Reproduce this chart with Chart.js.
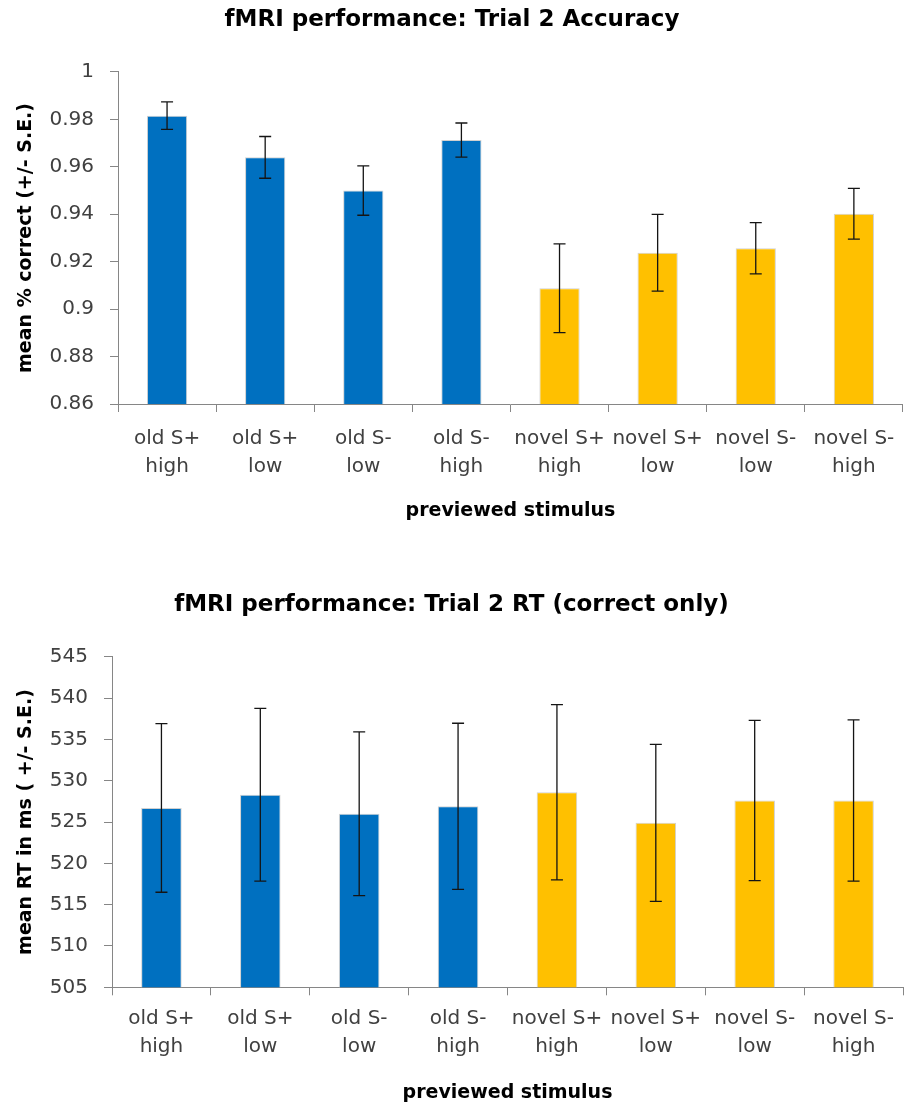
<!DOCTYPE html>
<html><head><meta charset="utf-8">
<script src="https://cdn.jsdelivr.net/npm/chart.js@4/dist/chart.umd.min.js"></script>
<style>
html,body{margin:0;padding:0;background:#fff;}
body{width:907px;height:1109px;position:relative;overflow:hidden;}
.box{position:absolute;left:0;width:907px;}
canvas{display:block;}
</style></head><body>
<div class="box" style="top:0;height:550px"><canvas id="c1" width="907" height="550"></canvas></div>
<div class="box" style="top:560px;height:549px"><canvas id="c2" width="907" height="549"></canvas></div>
<script>
// ---- data ----
const categories = [["old S+","high"],["old S+","low"],["old S-","low"],["old S-","high"],
                    ["novel S+","high"],["novel S+","low"],["novel S-","low"],["novel S-","high"]];
const accuracy    = [0.9816, 0.9640, 0.9500, 0.9713, 0.9088, 0.9238, 0.9257, 0.9402];
const accuracyErr = [0.0058, 0.0088, 0.0104, 0.0072, 0.0187, 0.0162, 0.0108, 0.0107];
const rtMs        = [526.7, 528.3, 526.0, 526.9, 528.6, 524.9, 527.6, 527.6];
const rtErr       = [10.2, 10.45, 9.9, 10.05, 10.6, 9.5, 9.7, 9.75];
const barColors   = ["#0070C0","#0070C0","#0070C0","#0070C0","#FFC000","#FFC000","#FFC000","#FFC000"];

Chart.defaults.font.family = "'DejaVu Sans', sans-serif";

const errorBarPlugin = {
  id: 'errorBars',
  afterDatasetsDraw(chart, args, opts) {
    const ctx = chart.ctx, ys = chart.scales.y;
    const meta = chart.getDatasetMeta(0);
    const vals = chart.data.datasets[0].data;
    ctx.save();
    ctx.strokeStyle = '#141414';
    ctx.lineWidth = 1.3;
    meta.data.forEach((bar, i) => {
      const v = vals[i], e = opts.values[i];
      const yt = ys.getPixelForValue(v + e), yb = ys.getPixelForValue(v - e);
      const x = bar.x, w = 6;
      ctx.beginPath();
      ctx.moveTo(x, yt); ctx.lineTo(x, yb);
      ctx.moveTo(x - w, yt); ctx.lineTo(x + w, yt);
      ctx.moveTo(x - w, yb); ctx.lineTo(x + w, yb);
      ctx.stroke();
    });
    ctx.restore();
  }
};

function build(id, o) {
  const tTop = o.titleC - 13.8;
  return new Chart(document.getElementById(id), {
    type: 'bar',
    data: { labels: categories, datasets: [{ data: o.values, backgroundColor: barColors,
            borderWidth: 1, borderColor: 'rgba(200,200,200,0.85)',
            barPercentage: 0.41, categoryPercentage: 1 }] },
    plugins: [errorBarPlugin],
    options: {
      responsive: false, animation: false, devicePixelRatio: 1,
      layout: { padding: { left: 0, right: 907 - o.right, top: 0, bottom: 0 } },
      plugins: {
        legend: { display: false }, tooltip: { enabled: false },
        errorBars: { values: o.err },
        title: { display: true, text: o.title, color: '#000',
                 font: { size: 23, weight: 'bold', lineHeight: 1.2 },
                 padding: { top: tTop, bottom: o.top - tTop - 27.6 } }
      },
      scales: {
        x: {
          afterFit: s => { s.height = o.H - o.bottom; },
          grid: { display: true, drawOnChartArea: false, drawTicks: true, tickLength: 8, color: '#868686', offset: true },
          border: { color: '#868686', width: 1 },
          ticks: { font: { size: 20, lineHeight: 1.4 }, color: '#404040', padding: o.xPad, maxRotation: 0, autoSkip: false },
          title: { display: true, text: 'previewed stimulus', color: '#000',
                   font: { size: 19, weight: 'bold', lineHeight: 1.2 },
                   padding: { top: 0, bottom: o.H - o.xTitleC - 11.4 } }
        },
        y: {
          min: o.min, max: o.max,
          afterFit: s => { s.width = o.left; },
          grid: { display: true, drawOnChartArea: false, drawTicks: true, tickLength: 8, color: '#868686' },
          border: { color: '#868686', width: 1 },
          ticks: { stepSize: o.step, font: { size: 20 }, color: '#404040', padding: o.yPad,
                   callback: v => String(parseFloat(Number(v).toFixed(2))) },
          title: { display: true, text: o.yTitle, color: '#000',
                   font: { size: 19, weight: 'bold', lineHeight: 1.2 },
                   padding: { top: o.yTitleC - 11.4, bottom: 0 } }
        }
      }
    }
  });
}

build('c1', { values: accuracy, err: accuracyErr, min: 0.86, max: 1, step: 0.02,
  title: 'fMRI performance: Trial 2 Accuracy', yTitle: 'mean % correct (+/- S.E.)',
  H: 550, left: 118, right: 904, top: 72, bottom: 404, titleC: 20, xPad: 12.5, xTitleC: 511, yTitleC: 26, yPad: 16 });

build('c2', { values: rtMs, err: rtErr, min: 505, max: 545, step: 5,
  title: 'fMRI performance: Trial 2 RT (correct only)', yTitle: 'mean RT in ms ( +/- S.E.)',
  H: 549, left: 112, right: 903, top: 96.7, bottom: 427.3, titleC: 45, xPad: 9, xTitleC: 533, yTitleC: 26, yPad: 16 });
</script>
</body></html>
